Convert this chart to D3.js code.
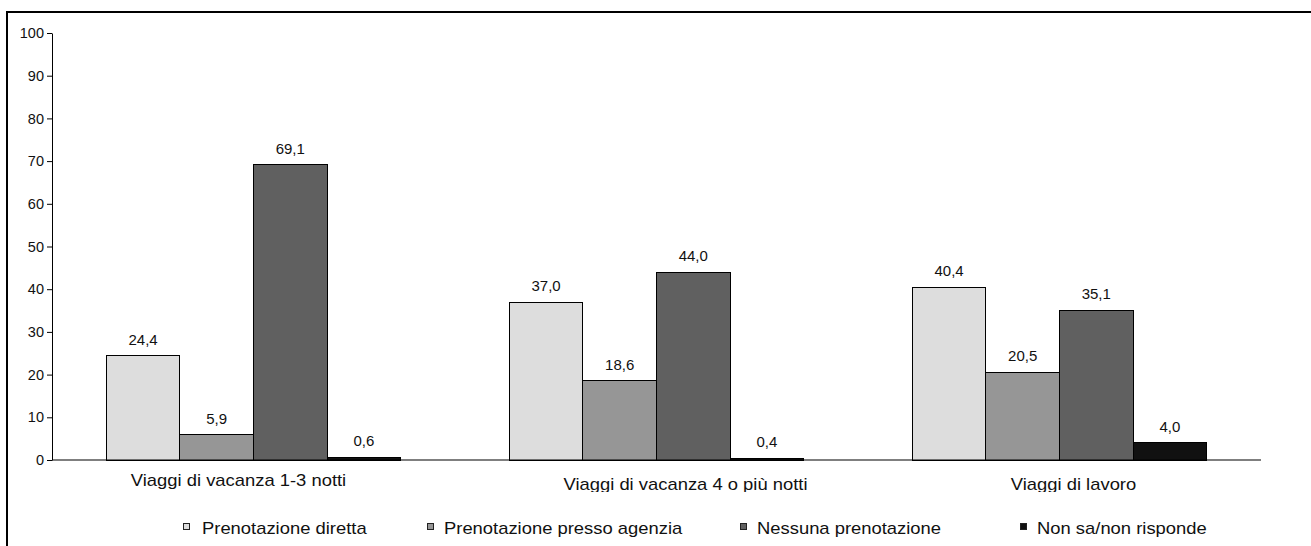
<!DOCTYPE html>
<html>
<head>
<meta charset="utf-8">
<script src="https://cdn.jsdelivr.net/npm/d3@7"></script>
<style>
  html, body { margin: 0; padding: 0; background: #fff; }
  svg { display: block; font-family: "Liberation Sans", Arial, sans-serif; }
</style>
</head>
<body>
<svg id="chart" width="1311" height="546"></svg>
<script>
// Tipologia di viaggio
const categories = ["Viaggi di vacanza 1-3 notti", "Viaggi di vacanza 4 o più notti", "Viaggi di lavoro"];
// Modalità di prenotazione
const seriesNames = ["Prenotazione diretta", "Prenotazione presso agenzia", "Nessuna prenotazione", "Non sa/non risponde"];
// Valori percentuali, una riga per modalità
const diretta  = [24.4, 37.0, 40.4];
const agenzia  = [5.9, 18.6, 20.5];
const nessuna  = [69.1, 44.0, 35.1];
const nonSa    = [0.6, 0.4, 4.0];
const yTicks   = [0, 10, 20, 30, 40, 50, 60, 70, 80, 90, 100];

const seriesValues = [diretta, agenzia, nessuna, nonSa];
const colors = ["#dddddd", "#969696", "#606060", "#111111"];

const svg = d3.select("#chart");

// outer frame (runs past the right and bottom edges)
svg.append("rect")
  .attr("x", 7).attr("y", 12)
  .attr("width", 1400).attr("height", 600)
  .attr("fill", "none").attr("stroke", "#000").attr("stroke-width", 2);

const plot = { left: 52, right: 1261, top: 33, bottom: 460 };

const y = d3.scaleLinear().domain([0, 100]).range([plot.bottom, plot.top]);
const x0 = d3.scaleBand().domain(categories).range([plot.left, plot.right]).padding(0);
const groupInset = 54.3;
const x1 = d3.scaleBand().domain(seriesNames)
  .range([groupInset, x0.bandwidth() - groupInset]).padding(0);

const fmt = v => d3.format(".1f")(v).replace(".", ",");

// y axis
const yAxis = d3.axisLeft(y).tickValues(yTicks).tickSize(5).tickSizeOuter(0).tickPadding(3);
const gy = svg.append("g").attr("transform", `translate(${plot.left},0)`).call(yAxis);
gy.select(".domain").attr("stroke", "#000").attr("stroke-width", 1);
gy.selectAll(".tick line").attr("stroke", "#000");
gy.selectAll(".tick text")
  .attr("fill", "#111").style("font-size", "14.5px")
  .style("font-family", "\"Liberation Sans\", Arial, sans-serif");

// bars
const groups = svg.append("g").selectAll("g")
  .data(categories)
  .join("g")
  .attr("transform", d => `translate(${x0(d)},0)`);

const cells = groups.selectAll("g.cell")
  .data((c, ci) => seriesNames.map((s, si) => ({ series: s, si, value: seriesValues[si][ci] })))
  .join("g").attr("class", "cell");

cells.append("rect")
  .attr("x", d => x1(d.series))
  .attr("y", d => y(d.value))
  .attr("width", x1.bandwidth())
  .attr("height", d => y(0) - y(d.value))
  .attr("fill", d => colors[d.si])
  .attr("stroke", "#000")
  .attr("stroke-width", 1)
  .attr("shape-rendering", "crispEdges");

cells.append("text")
  .attr("x", d => x1(d.series) + x1.bandwidth() / 2)
  .attr("y", d => y(d.value) - 11)
  .attr("text-anchor", "middle")
  .attr("fill", "#111")
  .style("font-size", "15px")
  .text(d => fmt(d.value));

// x axis baseline
svg.append("line")
  .attr("x1", plot.left).attr("x2", plot.right)
  .attr("y1", plot.bottom).attr("y2", plot.bottom)
  .attr("stroke", "#000").attr("stroke-width", 1.2);

// category labels (clipped at the bottom of the label strip)
svg.append("clipPath").attr("id", "catClip")
  .append("rect").attr("x", 0).attr("y", 462).attr("width", 1311).attr("height", 30);

const stretch = 1.15;
const catShift = [-15, 29, 14];
const catBase = [485.5, 489.8, 489.8];
svg.append("g").attr("clip-path", "url(#catClip)")
  .selectAll("text")
  .data(categories)
  .join("text")
  .attr("transform", (d, i) =>
    `translate(${x0(d) + x0.bandwidth() / 2 + catShift[i]},${catBase[i]}) scale(${stretch},1)`)
  .attr("text-anchor", "middle")
  .attr("fill", "#111")
  .style("font-size", "16px")
  .text(d => d);

// legend
const legendX = [183, 427, 740, 1020];
const legend = svg.append("g").selectAll("g")
  .data(seriesNames)
  .join("g")
  .attr("transform", (d, i) => `translate(${legendX[i]},0)`);

legend.append("rect")
  .attr("x", 0.5).attr("y", 523.5)
  .attr("width", 6).attr("height", 6)
  .attr("fill", (d, i) => colors[i])
  .attr("stroke", "#222").attr("stroke-width", 1);

legend.append("text")
  .attr("transform", (d, i) => `translate(${i === 0 ? 19 : 17},534.3) scale(${stretch},1)`)
  .attr("fill", "#111")
  .style("font-size", "16px")
  .text(d => d);
</script>
</body>
</html>
